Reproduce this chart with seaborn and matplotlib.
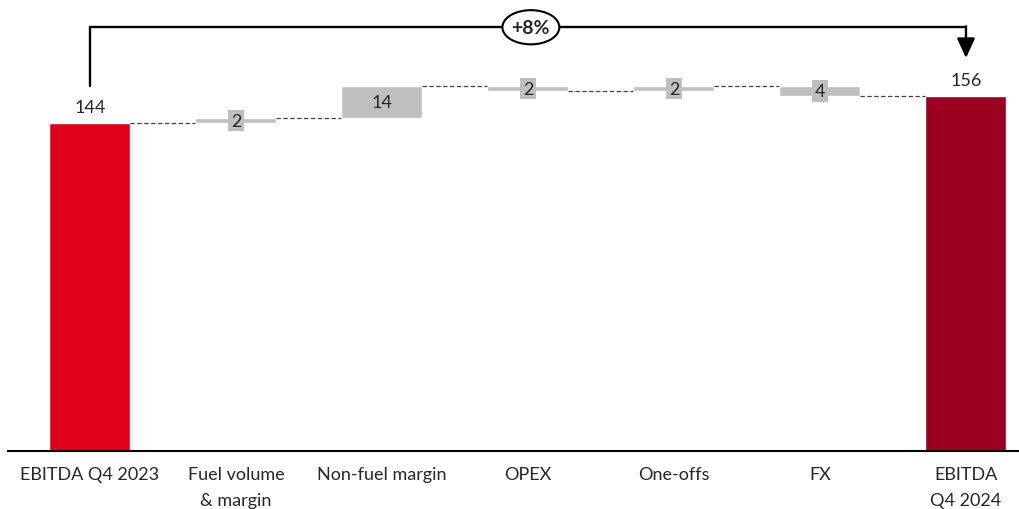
import numpy as np
import pandas as pd
import seaborn as sns
import matplotlib.pyplot as plt
from matplotlib.patches import Ellipse
from matplotlib.transforms import blended_transform_factory

categories = ["EBITDA Q4 2023", "Fuel volume\n& margin", "Non-fuel margin",
              "OPEX", "One-offs", "FX", "EBITDA\nQ4 2024"]
start_value = 144
end_value = 156
deltas = [2, 14, -2, 2, -4]
change_label = "+8%"

RED = "#E2001A"
DARK_RED = "#9B0020"
GREY = "#BFBFBF"

sns.set_style("white")
plt.rcParams['font.family'] = ['Lato', 'DejaVu Sans']

# levels before / after each step
levels = np.concatenate([[start_value], start_value + np.cumsum(deltas)])
bottoms = np.minimum(levels[:-1], levels[1:])
heights = np.abs(deltas)

totals = pd.DataFrame({"cat": [categories[0], categories[-1]],
                       "value": [start_value, end_value]})
steps = pd.DataFrame({"cat": categories[1:-1], "height": heights})

fig = plt.figure(figsize=(10.2, 5.1), dpi=100)
ax = fig.add_axes([0.008, 0.1137, 0.992, 0.8863])

bar_w = 0.555
sns.barplot(data=totals, x="cat", y="value", hue="cat", order=categories,
            palette=[RED, DARK_RED], width=bar_w, errorbar=None, legend=False,
            saturation=1, ax=ax)
sns.barplot(data=steps, x="cat", y="height", order=categories, color=GREY,
            width=bar_w, errorbar=None, saturation=1, bottom=bottoms, ax=ax)

# connectors between bars
for i in range(len(categories) - 1):
    ax.plot([i + bar_w / 2, i + 1 - bar_w / 2], [levels[min(i, len(levels) - 1)]] * 2,
            color="#404040", lw=0.9, ls=(0, (3.5, 2)), zorder=1)

# total labels
ax.text(0, start_value + 3.5, str(start_value), ha="center", va="bottom", fontsize=13)
ax.text(len(categories) - 1, end_value + 3.5, str(end_value), ha="center",
        va="bottom", fontsize=13)

# step labels on grey boxes
for i, (b, h, d) in enumerate(zip(bottoms, heights, deltas)):
    ax.text(i + 1, b + h / 2, str(abs(d)), ha="center", va="center", fontsize=13,
            bbox=dict(boxstyle="square,pad=0.15", fc=GREY, ec="none"), zorder=5)

# bracket with growth bubble
y_br = 186
ax.plot([0, 0, len(categories) - 1], [start_value + 16, y_br, y_br], color="black",
        lw=1.7, solid_joinstyle="miter", zorder=3)
ax.annotate("", xy=(len(categories) - 1, 172.5), xytext=(len(categories) - 1, y_br + 0.4),
            arrowprops=dict(arrowstyle="-|>,head_width=0.55,head_length=1.2",
                            color="black", lw=1.7, shrinkA=0, shrinkB=0), zorder=3)
ax.add_patch(Ellipse((3.02, y_br), 0.39, 15, fc="white", ec="black", lw=1.5, zorder=4))
ax.text(3.02, y_br, change_label, ha="center", va="center", fontsize=14,
        fontweight="bold", zorder=5)

ax.set_xlim(-0.56, 6.37)
ax.set_ylim(0, 198.4)
ax.set_xlabel("")
ax.set_ylabel("")
ax.set_yticks([])
# category labels drawn as text so the line spacing sticks
ax.set_xticks(range(len(categories)))
ax.set_xticklabels([])
ax.tick_params(axis="x", length=0)
trans = blended_transform_factory(ax.transData, ax.transAxes)
for i, cat in enumerate(categories):
    ax.text(i, -0.033, cat, transform=trans, ha="center", va="top", fontsize=13,
            linespacing=1.75)
for s in ["top", "right", "left"]:
    ax.spines[s].set_visible(False)
ax.spines["bottom"].set_color("black")
ax.spines["bottom"].set_linewidth(1.5)

fig.savefig("out.png", dpi=100)
